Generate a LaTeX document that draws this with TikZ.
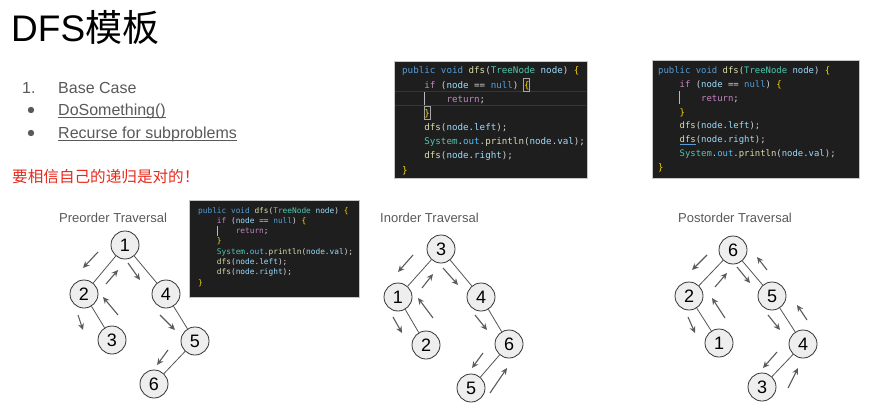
\documentclass[tikz,border=0pt]{standalone}
\usepackage{fontspec}
\setmainfont{Liberation Sans}
\newfontfamily\cjk{Noto Sans CJK SC}
\newfontfamily\codefont{DejaVu Sans Mono}
\usetikzlibrary{arrows.meta}
\definecolor{txtgray}{HTML}{595959}
\definecolor{notered}{HTML}{E8291C}
\definecolor{cbg}{HTML}{1E1E1E}
\definecolor{cline}{HTML}{363636}
\definecolor{cdef}{HTML}{D4D4D4}
\definecolor{ckw}{HTML}{569CD6}
\definecolor{cfn}{HTML}{DCDCAA}
\definecolor{cty}{HTML}{4EC9B0}
\definecolor{cva}{HTML}{9CDCFE}
\definecolor{cco}{HTML}{4FC1FF}
\definecolor{cct}{HTML}{C586C0}
\definecolor{cbr}{HTML}{FFD700}
\definecolor{nodefill}{HTML}{EEEEEE}
\definecolor{nodeline}{HTML}{333333}
\definecolor{edgecol}{HTML}{555555}
\definecolor{arrcol}{HTML}{5A5A5A}
\newcommand\cKw[1]{\textcolor{ckw}{#1}}
\newcommand\cFn[1]{\textcolor{cfn}{#1}}
\newcommand\cTy[1]{\textcolor{cty}{#1}}
\newcommand\cVa[1]{\textcolor{cva}{#1}}
\newcommand\cCo[1]{\textcolor{cco}{#1}}
\newcommand\cCt[1]{\textcolor{cct}{#1}}
\newcommand\cBr[1]{\textcolor{cbr}{#1}}
\newcommand\ind[1]{\hphantom{#1}}
\newcommand\trarrow[3]{\coordinate (#1a) at (#2); \coordinate (#1b) at (#3); \draw[trav] (#1a) -- (#1b);}
\begin{document}
\begin{tikzpicture}[x=1pt,y=-1pt,
  txt/.style={anchor=base west, inner sep=0pt, text=txtgray, font=\fontsize{16}{19}\selectfont},
  ttl/.style={anchor=base west, inner sep=0pt, text=txtgray, font=\fontsize{13}{15}\selectfont},
  cl/.style={anchor=base west, inner sep=0pt, text=cdef},
  codeA/.style={cl, font=\codefont\fontsize{9.2}{11}\selectfont},
  codeB/.style={cl, font=\codefont\fontsize{8.93}{11}\selectfont},
  codeC/.style={cl, font=\codefont\fontsize{7.8}{9}\selectfont},
  codebox/.style={fill=cbg, draw=gray!45, line width=0.6pt},
  tn/.style={circle, draw=nodeline, fill=nodefill, line width=0.8pt, minimum size=28pt, inner sep=0pt, font=\fontsize{18}{20}\selectfont},
  te/.style={draw=edgecol, line width=0.8pt},
  trav/.style={draw=arrcol, line width=1.1pt, -{Stealth[length=6.5pt,width=6pt]}},
  guide/.style={draw=gray!55, line width=0.5pt}
]
\useasboundingbox (0,0) rectangle (875,420);

% ---------- heading and list ----------
\node[anchor=base west, inner sep=0pt, font=\fontsize{37}{44}\selectfont] (title) at (11,42) {DFS{\cjk 模板}};
\node[txt] (n1) at (22,93) {1.};
\node[txt] (base) at (58,93) {Base Case};
\fill[txtgray] (31,110) circle (3.2);
\fill[txtgray] (31,133) circle (3.2);
\node[txt] (dosth) at (58,115) {DoSomething()};
\node[txt] (recur) at (58,138) {Recurse for subproblems};
\draw[txtgray, line width=0.8pt] ([yshift=-2pt]dosth.base west) -- ([yshift=-2pt]dosth.base east);
\draw[txtgray, line width=0.8pt] ([yshift=-2pt]recur.base west) -- ([yshift=-2pt]recur.base east);
\node[anchor=base west, inner sep=0pt, text=notered, font=\cjk\fontsize{15.6}{18}\selectfont] (note) at (12,182) {要相信自己的递归是对的！};

% ---------- code box 1 (inorder) ----------
\path[codebox] (394,61) rectangle (587,178);
\draw[cline, line width=0.6pt] (395,91.5) -- (586,91.5);
\draw[cline, line width=0.6pt] (395,105.5) -- (586,105.5);
\draw[guide] (424,92) -- (424,105);
\draw[gray!70, line width=0.5pt] (523.4,78.5) rectangle (529.4,91);
\draw[gray!70, line width=0.5pt] (423.9,106.5) rectangle (429.9,119.5);
\node[codeA] (a1) at (402,74) {\cKw{public} \cKw{void} \cFn{dfs}(\cTy{TreeNode} \cVa{node}) \cBr{\{}};
\node[codeA] (a2) at (402,88.1) {\ind{xxxx}\cCt{if} (\cVa{node} == \cKw{null}) \cBr{\{}};
\node[codeA] (a3) at (402,102.3) {\ind{xxxxxxxx}\cCt{return};};
\node[codeA] (a4) at (402,116.4) {\ind{xxxx}\cBr{\}}};
\node[codeA] (a5) at (402,130.6) {\ind{xxxx}\cFn{dfs}(\cVa{node}.\cVa{left});};
\node[codeA] (a6) at (402,144.7) {\ind{xxxx}\cTy{System}.\cCo{out}.\cFn{println}(\cVa{node}.\cVa{val});};
\node[codeA] (a7) at (402,158.8) {\ind{xxxx}\cFn{dfs}(\cVa{node}.\cVa{right});};
\node[codeA] (a8) at (402,173) {\cBr{\}}};

% ---------- code box 2 (postorder) ----------
\path[codebox] (652,60) rectangle (859,178);
\draw[guide] (679.5,91) -- (679.5,104);
\node[codeB] (b1) at (658,73.5) {\cKw{public} \cKw{void} \cFn{dfs}(\cTy{TreeNode} \cVa{node}) \cBr{\{}};
\node[codeB] (b2) at (658,87.4) {\ind{xxxx}\cCt{if} (\cVa{node} == \cKw{null}) \cBr{\{}};
\node[codeB] (b3) at (658,101.2) {\ind{xxxxxxxx}\cCt{return};};
\node[codeB] (b4) at (658,115.1) {\ind{xxxx}\cBr{\}}};
\node[codeB] (b5) at (658,128.9) {\ind{xxxx}\cFn{dfs}(\cVa{node}.\cVa{left});};
\node[codeB] (b6) at (658,142.8) {\ind{xxxx}\cFn{dfs}(\cVa{node}.\cVa{right});};
\node[codeB] (b7) at (658,156.7) {\ind{xxxx}\cTy{System}.\cCo{out}.\cFn{println}(\cVa{node}.\cVa{val});};
\node[codeB] (b8) at (658,170.5) {\cBr{\}}};
\draw[ckw, line width=0.6pt] (679.5,144.6) -- (695.6,144.6);

% ---------- code box 3 (preorder) ----------
\path[codebox] (189,200) rectangle (359,297);
\draw[guide] (216.8,226) -- (216.8,236);
\node[codeC] (c1) at (198,213) {\cKw{public} \cKw{void} \cFn{dfs}(\cTy{TreeNode} \cVa{node}) \cBr{\{}};
\node[codeC] (c2) at (198,223.3) {\ind{xxxx}\cCt{if} (\cVa{node} == \cKw{null}) \cBr{\{}};
\node[codeC] (c3) at (198,233.6) {\ind{xxxxxxxx}\cCt{return};};
\node[codeC] (c4) at (198,243.9) {\ind{xxxx}\cBr{\}}};
\node[codeC] (c5) at (198,254.2) {\ind{xxxx}\cTy{System}.\cCo{out}.\cFn{println}(\cVa{node}.\cVa{val});};
\node[codeC] (c6) at (198,264.5) {\ind{xxxx}\cFn{dfs}(\cVa{node}.\cVa{left});};
\node[codeC] (c7) at (198,274.8) {\ind{xxxx}\cFn{dfs}(\cVa{node}.\cVa{right});};
\node[codeC] (c8) at (198,285.1) {\cBr{\}}};

% ---------- Preorder tree ----------
\node[ttl] (pret) at (59,222) {Preorder Traversal};
\node[tn] (p1) at (125,245) {1};
\node[tn] (p2) at (84,294) {2};
\node[tn] (p4) at (166,294) {4};
\node[tn] (p3) at (112,340) {3};
\node[tn] (p5) at (195,341) {5};
\node[tn] (p6) at (154,384) {6};
\draw[te] (p1) -- (p2);
\draw[te] (p1) -- (p4);
\draw[te] (p2) -- (p3);
\draw[te] (p4) -- (p5);
\draw[te] (p5) -- (p6);
\trarrow{pa1}{98,252}{83,268}
\trarrow{pa2}{106,284}{118,270}
\trarrow{pa3}{128,263}{140,280}
\trarrow{pa4}{78,315}{83,330}
\trarrow{pa5}{118,315}{103,297}
\trarrow{pa6}{160,315}{175,330}
\trarrow{pa7}{168,350}{157,365}

% ---------- Inorder tree ----------
\node[ttl] (int) at (380,222) {Inorder Traversal};
\node[tn] (i3) at (441,249) {3};
\node[tn] (i1) at (398,297) {1};
\node[tn] (i4) at (481,297) {4};
\node[tn] (i2) at (426,345) {2};
\node[tn] (i6) at (509,344) {6};
\node[tn] (i5) at (471,388) {5};
\draw[te] (i3) -- (i1);
\draw[te] (i3) -- (i4);
\draw[te] (i1) -- (i2);
\draw[te] (i4) -- (i6);
\draw[te] (i6) -- (i5);
\trarrow{ia1}{413,255}{398,272}
\trarrow{ia2}{422,288}{433,274}
\trarrow{ia3}{443,268}{458,285}
\trarrow{ia4}{393,317}{402,333}
\trarrow{ia5}{433,318}{418,298}
\trarrow{ia6}{475,315}{487,330}
\trarrow{ia7}{483,353}{472,368}
\trarrow{ia8}{490,393}{507,368}

% ---------- Postorder tree ----------
\node[ttl] (postt) at (678,222) {Postorder Traversal};
\node[tn] (o6) at (733,250) {6};
\node[tn] (o2) at (689,296) {2};
\node[tn] (o5) at (772,296) {5};
\node[tn] (o1) at (719,343) {1};
\node[tn] (o4) at (803,344) {4};
\node[tn] (o3) at (762,387) {3};
\draw[te] (o6) -- (o2);
\draw[te] (o6) -- (o5);
\draw[te] (o2) -- (o1);
\draw[te] (o5) -- (o4);
\draw[te] (o4) -- (o3);
\trarrow{oa1}{707,255}{692,270}
\trarrow{oa2}{715,287}{727,273}
\trarrow{oa3}{737,267}{750,283}
\trarrow{oa4}{767,270}{757,257}
\trarrow{oa5}{688,317}{695,333}
\trarrow{oa6}{725,318}{712,298}
\trarrow{oa7}{768,315}{780,330}
\trarrow{oa8}{807,320}{797,305}
\trarrow{oa9}{777,352}{763,368}
\trarrow{oa10}{788,388}{798,368}
\end{tikzpicture}
\end{document}
